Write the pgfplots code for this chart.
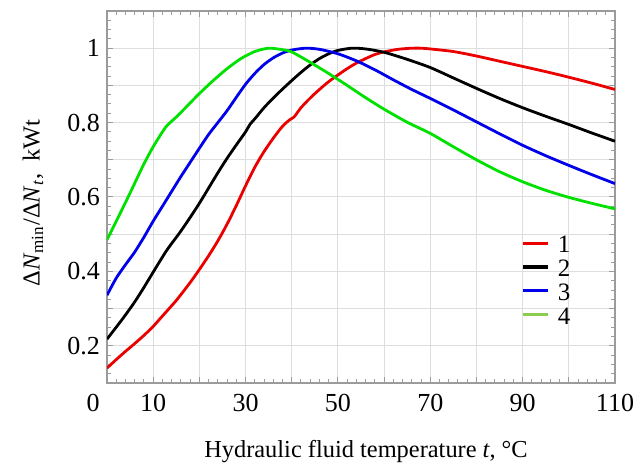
\documentclass[border=0pt]{standalone}
\usepackage{fontspec}
\setmainfont{Liberation Serif}
\usepackage{pgfplots}
\pgfplotsset{compat=1.18}
\definecolor{cred}{RGB}{235,0,0}
\definecolor{cblue}{RGB}{0,0,235}
\definecolor{cgreen}{RGB}{0,225,0}
\definecolor{lgreen}{RGB}{140,205,80}
\definecolor{gridc}{RGB}{222,222,222}
\definecolor{framec}{RGB}{155,155,155}
\begin{document}
\begin{tikzpicture}
\path[use as bounding box] (0,0) rectangle (320.5pt,233pt);
\begin{axis}[
  at={(53.5pt,41.5pt)}, anchor=south west,
  scale only axis, width=254pt, height=186pt,
  xmin=0, xmax=110, ymin=0.1, ymax=1.1,
  axis line style={framec, line width=0.7pt},
  xtick={0,10,30,50,70,90,110},
  xticklabels={\llap{0\hspace{3.75pt}},10,30,50,70,90,110},
  extra x ticks={20,40,60,80,100},
  extra x tick labels={},
  ytick={0.2,0.4,0.6,0.8,1},
  extra y ticks={0.3,0.5,0.7,0.9},
  extra y tick labels={},
  minor xtick={2,4,...,108},
  minor ytick={0.125,0.15,...,1.09},
  grid=major,
  extra tick style={grid=major},
  major grid style={gridc, line width=0.5pt},
  tick style={framec, line width=0.5pt},
  major tick length=2.8pt, minor tick length=2.2pt,
  tick align=inside,
  /pgf/number format/assume math mode=true,
  ticklabel style={font=\fontsize{13}{15}\selectfont},
  xticklabel style={yshift=-2pt},
  xlabel={Hydraulic fluid temperature \textit{t}, °C},
  xlabel style={font=\fontsize{12.2}{14}\selectfont, at={(axis description cs:0.5,0)}, anchor=center, yshift=-34.5pt, xshift=2.5pt},
  ylabel={Δ\textit{N}\textsubscript{min}/Δ\textit{N}\textsubscript{\textit{t}}, \ kWt},
  ylabel style={font=\fontsize{12.2}{14}\selectfont, at={(axis description cs:-0.1457,0.484)}, anchor=center},
  legend style={draw=none, fill=none, inner sep=0pt, at={(axis cs:89.7,0.500)}, anchor=north west,
    font=\fontsize{12.5}{14}\selectfont, row sep=2.4pt,
    nodes={inner sep=0.5pt, text height=8.5pt, text depth=0pt},
    /tikz/every odd column/.append style={column sep=3.5pt}},
  legend cell align=left,
  legend image code/.code={\draw[#1] (0pt,0.5pt) -- (12.5pt,0.5pt);},
  every axis plot/.append style={line width=1.4pt, smooth, tension=0.45},
]
\addplot[cred, forget plot] coordinates {
(0,0.140) (2,0.163) (4,0.185) (6,0.206) (8,0.228) (10,0.252) (12,0.280) (15,0.322)
(18,0.370) (20,0.405) (22,0.442) (24,0.482) (26,0.527) (28,0.577) (30,0.630) (32,0.680)
(34,0.722) (36,0.758) (38,0.790) (39.5,0.807) (40.5,0.815) (42,0.840) (44,0.866) (46,0.889)
(48,0.910) (50,0.928) (52,0.945) (54,0.960) (56,0.972) (58,0.983) (60,0.990) (63,0.997)
(66,1.000) (68,1.000) (70,0.998) (75,0.991) (80,0.979) (85,0.965) (90,0.951) (95,0.937)
(100,0.922) (105,0.906) (110,0.889)};
\addplot[black, forget plot] coordinates {
(0,0.218) (2,0.250) (4,0.283) (6,0.318) (8,0.357) (10,0.398) (12.9,0.456) (15.8,0.505) (18,0.545)
(20,0.583) (22,0.624) (24,0.665) (26,0.704) (28,0.740) (30,0.775) (31,0.796) (32,0.810)
(34,0.840) (36,0.866) (38,0.890) (40,0.913) (42,0.935) (44,0.955) (46,0.972) (48,0.985)
(50,0.994) (53,1.000) (56,0.998) (60,0.989) (65,0.970) (70,0.948) (75,0.920) (80,0.892)
(85,0.865) (90,0.840) (95,0.817) (100,0.795) (105,0.772) (110,0.750)};
\addplot[cblue, forget plot] coordinates {
(0,0.336) (2,0.382) (4,0.418) (6,0.452) (8,0.492) (10,0.535) (12,0.575) (14,0.615)
(16,0.655) (18,0.693) (20,0.731) (22,0.768) (24,0.800) (26,0.832) (28,0.868) (30,0.903)
(32,0.932) (34,0.956) (36,0.974) (38,0.987) (40,0.995) (43,1.000) (46,0.997) (50,0.985)
(54,0.966) (58,0.942) (62,0.915) (66,0.889) (70,0.865) (75,0.834) (80,0.802) (85,0.770)
(90,0.739) (95,0.711) (100,0.685) (105,0.660) (110,0.636)};
\addplot[cgreen, forget plot] coordinates {
(0,0.485) (2,0.535) (4,0.585) (6,0.637) (8,0.689) (10,0.735) (12,0.775) (13,0.792)
(15,0.815) (17,0.840) (20,0.878) (23,0.913) (26,0.945) (29,0.972) (32,0.991) (35,1.000)
(38,0.996) (40,0.990) (44,0.962) (48,0.932) (52,0.900) (56,0.867) (60,0.836) (65,0.801)
(70,0.771) (75,0.735) (80,0.700) (85,0.668) (90,0.641) (95,0.618) (100,0.599) (105,0.583)
(110,0.568)};
\addlegendimage{cred, line width=1.6pt}
\addlegendentry{1}
\addlegendimage{black, line width=1.6pt}
\addlegendentry{2}
\addlegendimage{cblue, line width=1.6pt}
\addlegendentry{3}
\addlegendimage{lgreen, line width=1.6pt}
\addlegendentry{4}
\end{axis}
\end{tikzpicture}
\end{document}
